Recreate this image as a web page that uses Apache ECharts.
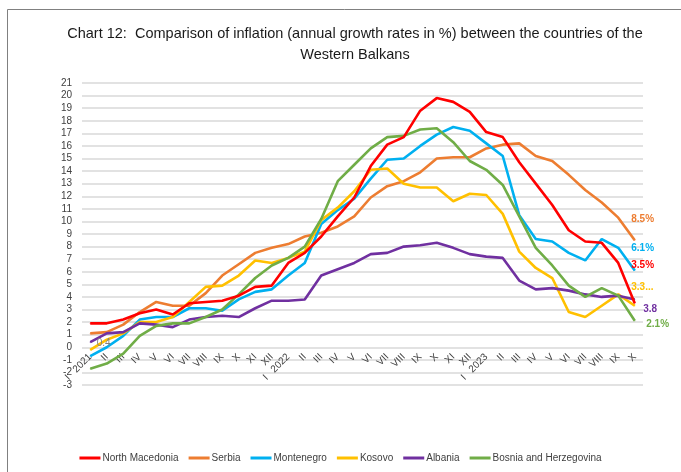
<!DOCTYPE html>
<html lang="en">
<head>
    <meta charset="UTF-8">
    <title>Chart 12</title>
    <script src="https://cdn.jsdelivr.net/npm/echarts@6/dist/echarts.min.js"></script>
    <style>
        *{
            padding: 0;
            margin: 0;
        }
        html, body{
            width: 100%;
            height: 100%;
            background: #fff;
        }
        .echarts{
            width: 681px;
            height: 472px;
        }
    </style>
</head>
<body>
<div class="echarts"></div>
<script>
    // months Jan 2021 .. Oct 2023
    let months = ['2021','II','III','IV','V','VI','VII','VIII','IX','X','XI','XII',
        '2022','II','III','IV','V','VI','VII','VIII','IX','X','XI','XII',
        '2023','II','III','IV','V','VI','VII','VIII','IX','X'];

    let northMacedonia = [1.9,1.9,2.2,2.7,3.0,2.6,3.5,3.6,3.7,4.1,4.8,4.9,
        6.7,7.5,8.8,10.4,11.9,14.4,16.1,16.7,18.8,19.8,19.5,18.7,
        17.1,16.7,14.7,13.0,11.3,9.3,8.4,8.3,6.7,3.5];
    let serbia = [1.1,1.2,1.8,2.8,3.6,3.3,3.3,4.3,5.7,6.6,7.5,7.9,
        8.2,8.8,9.1,9.6,10.4,11.9,12.8,13.2,13.9,15.0,15.1,15.1,
        15.8,16.1,16.2,15.2,14.8,13.7,12.5,11.5,10.3,8.5];
    let montenegro = [-0.7,0.0,0.9,2.2,2.4,2.4,3.1,3.1,2.9,3.8,4.4,4.6,
        5.7,6.7,9.8,10.9,11.8,13.4,14.9,15.0,16.0,16.9,17.5,17.2,
        16.2,15.2,10.5,8.6,8.4,7.5,6.9,8.6,7.9,6.1];
    let kosovo = [-0.2,0.6,1.1,2.0,2.0,2.4,3.6,4.8,4.9,5.7,6.9,6.7,
        7.1,7.6,10.1,11.1,12.4,14.1,14.2,13.0,12.7,12.7,11.6,12.2,
        12.1,10.6,7.6,6.3,5.5,2.8,2.4,3.3,4.2,3.3];
    let albania = [0.4,1.1,1.2,1.9,1.8,1.6,2.2,2.4,2.5,2.4,3.1,3.7,
        3.7,3.8,5.7,6.2,6.7,7.4,7.5,8.0,8.1,8.3,7.9,7.4,
        7.2,7.1,5.3,4.6,4.7,4.5,4.2,4.0,4.1,3.8];
    let bosnia = [-1.7,-1.3,-0.5,0.9,1.7,1.9,1.9,2.4,3.0,4.2,5.5,6.5,
        7.1,8.0,10.2,13.2,14.5,15.8,16.7,16.8,17.3,17.4,16.3,14.8,
        14.1,12.9,10.4,7.9,6.5,4.9,4.0,4.7,4.1,2.1];

    let names = ['North Macedonia','Serbia','Montenegro','Kosovo','Albania','Bosnia and Herzegovina'];
    let colors = ['#ff0000','#ed7d31','#00b0f0','#ffc000','#7030a0','#70ad47'];
    let values = [northMacedonia, serbia, montenegro, kosovo, albania, bosnia];
    // end-of-line labels: text and offset from the last point
    let endLabels = [
        {text:'3.5%', offset:[-8,-38]},
        {text:'8.5%', offset:[-8,-21]},
        {text:'6.1%', offset:[-8,-22]},
        {text:'3.3...', offset:[-8,-18]},
        {text:'3.8', offset:[4,10]},
        {text:'2.1%', offset:[7,3]}
    ];

    let font = '"Liberation Sans", Arial, sans-serif';

    window.onload = function () {
        let myCharts = echarts.init(document.querySelector('.echarts'));
        let series = [];
        values.forEach((vals, n) => {
            let data = vals.map((v, i) => {
                if (i === vals.length - 1) {
                    return {
                        value: v,
                        label: {
                            show: true,
                            position: 'right',
                            distance: 4,
                            offset: endLabels[n].offset,
                            formatter: endLabels[n].text,
                            color: colors[n],
                            fontWeight: 'bold',
                            fontSize: 10,
                            fontFamily: font
                        }
                    };
                }
                if (n === 4 && i === 0) {
                    return {
                        value: v,
                        label: {
                            show: true,
                            position: 'right',
                            distance: 6,
                            offset: [0, 1],
                            formatter: '0.4',
                            color: '#7f7f7f',
                            fontSize: 10,
                            fontFamily: font
                        }
                    };
                }
                return v;
            });
            series.push({
                name: names[n],
                type: 'line',
                data: data,
                symbol: 'circle',
                symbolSize: 1,
                showAllSymbol: true,
                smooth: false,
                z: n === 0 ? 10 : 2 + n,
                lineStyle: {width: 2.6, color: colors[n]},
                itemStyle: {color: colors[n]},
                emphasis: {disabled: true}
            });
        });

        let option = {
            animation: false,
            backgroundColor: '#fff',
            color: colors,
            title: {
                text: 'Chart 12:  Comparison of inflation (annual growth rates in %) between the countries of the\nWestern Balkans',
                left: 350,
                textAlign: 'center',
                top: 18,
                textStyle: {
                    fontFamily: font,
                    fontSize: 14.5,
                    fontWeight: 'normal',
                    lineHeight: 21,
                    color: '#1a1a1a'
                }
            },
            legend: {
                data: names,
                bottom: 4,
                left: 'center',
                itemWidth: 21,
                itemHeight: 3,
                itemGap: 10,
                icon: 'rect',
                textStyle: {
                    fontFamily: font,
                    fontSize: 10,
                    color: '#404040',
                    padding: [0, 0, 0, -3]
                }
            },
            grid: {
                left: 82,
                right: 38,
                top: 83,
                bottom: 87
            },
            xAxis: {
                type: 'category',
                data: months,
                boundaryGap: true,
                // the category axis sits on the zero line
                offset: -38.7,
                axisLine: {show: false, onZero: false},
                axisTick: {show: false},
                axisLabel: {
                    rotate: 45,
                    interval: 0,
                    margin: 9,
                    fontFamily: font,
                    fontSize: 10,
                    color: '#404040',
                    formatter: function (val) {
                        // year labels carry the month "I" in front
                        if (/^\d{4}$/.test(val)) {
                            return '{i|I}{sp| }{yr|' + val + '}';
                        }
                        return val;
                    },
                    rich: {
                        i: {fontFamily: font, fontSize: 10, color: '#404040'},
                        sp: {width: 8},
                        yr: {fontFamily: font, fontSize: 10, color: '#404040'}
                    }
                }
            },
            yAxis: {
                type: 'value',
                min: -3,
                max: 21,
                interval: 1,
                axisLine: {show: false},
                axisTick: {show: false},
                axisLabel: {
                    margin: 10,
                    fontFamily: font,
                    fontSize: 10,
                    color: '#404040'
                },
                splitLine: {
                    lineStyle: {color: '#d9d9d9', width: 1.5}
                }
            },
            graphic: [{
                type: 'rect',
                shape: {x: 7.5, y: 9.5, width: 700, height: 500},
                style: {fill: 'none', stroke: '#808080', lineWidth: 1},
                silent: true
            }],
            series
        };
        myCharts.setOption(option);
    };
</script>
</body>
</html>
